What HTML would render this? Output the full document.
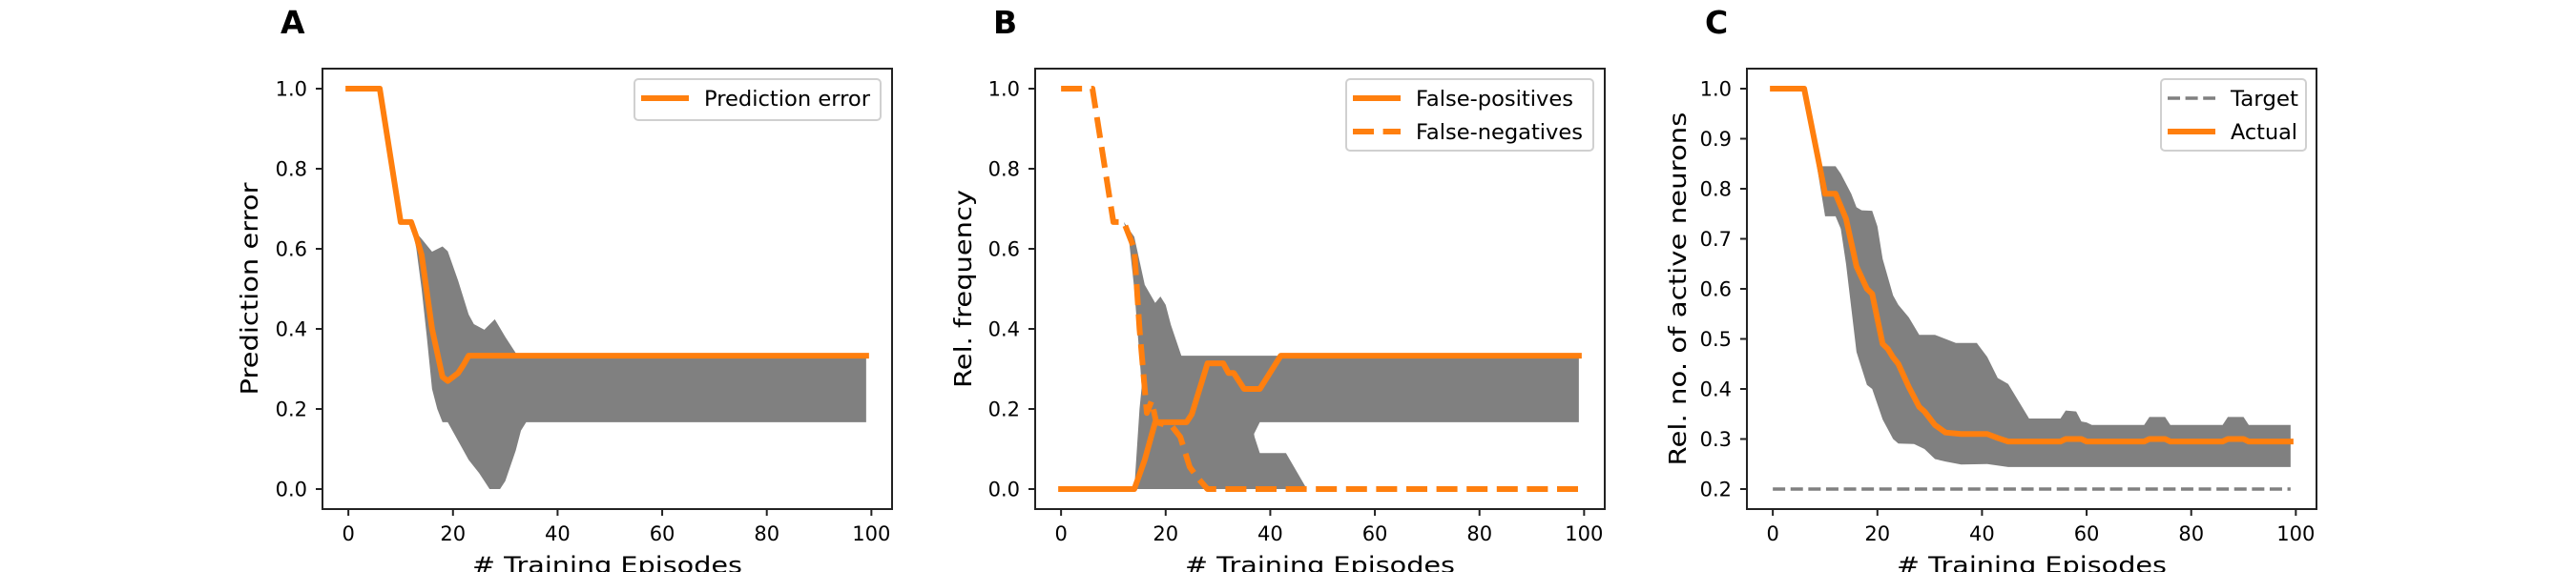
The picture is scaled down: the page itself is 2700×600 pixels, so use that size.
<!DOCTYPE html>
<html><head><meta charset="utf-8"><style>
html,body{margin:0;padding:0;background:#fff;}
svg{display:block;font-family:"DejaVu Sans","Liberation Sans",sans-serif;}
</style></head><body>
<svg id="fig" width="2700" height="600" viewBox="0 0 2700 600" xmlns="http://www.w3.org/2000/svg"></svg>
<script>
// ---------- Panel A data ----------
const aLineX = [0,6,10,12,13,14,16,18,19,21,22,23,99];
const aLineY = [1,1,0.667,0.667,0.63,0.585,0.4,0.28,0.27,0.29,0.31,0.333,0.333];
const aUpX = [12,13,14,16,18,19,21,23,24,26,28,30,32,33,99];
const aUpY = [0.667,0.64,0.625,0.593,0.606,0.594,0.52,0.436,0.412,0.398,0.424,0.38,0.34,0.333,0.333];
const aLoX = [12,13,14,15,16,17,18,19,21,23,25,27,29,30,32,33,34,99];
const aLoY = [0.667,0.6,0.5,0.38,0.25,0.2,0.167,0.167,0.12,0.073,0.04,0,0,0.02,0.096,0.146,0.167,0.167];
// ---------- Panel B data ----------
const bFpX = [0,14,16,18,24,25,28,31,32,33,35,38,42,99];
const bFpY = [0,0,0.073,0.167,0.167,0.187,0.314,0.314,0.29,0.29,0.25,0.25,0.333,0.333];
const bFnX = [0,6,10,12,14,15,16.4,17.3,18.2,21.3,22.8,24.6,26,28,99];
const bFnY = [1,1,0.667,0.667,0.6,0.4,0.19,0.22,0.167,0.155,0.13,0.055,0.03,0,0];
const bFnUpX = [12,14,16,18,19,20,21,23,36,37,38,43,47,99];
const bFnUpY = [0.667,0.63,0.51,0.465,0.481,0.46,0.41,0.333,0.2,0.13,0.09,0.09,0,0];
const bFnLoX = [12,13,14,16,17,99];
const bFnLoY = [0.667,0.62,0.5,0.16,0,0];
const bFpUpX = [14,15,16,99];
const bFpUpY = [0,0.2,0.333,0.333];
const bFpLoX = [14,35,36.6,38,99];
const bFpLoY = [0,0,0.13,0.167,0.167];
// ---------- Panel C data ----------
const cLineX = [0,6,10,12,14,16,18,19,21,22,23,24,26,28,29,31,33,36,41,43,45,55,56,59,60,71,72,75,76,86,87,90,91,99];
const cLineY = [1,1,0.79,0.79,0.74,0.645,0.6,0.59,0.49,0.48,0.463,0.45,0.404,0.364,0.355,0.328,0.313,0.31,0.31,0.302,0.295,0.295,0.3,0.3,0.295,0.295,0.3,0.3,0.295,0.295,0.3,0.3,0.295,0.295];
const cUpX = [6,9,12,13,15,16,17,19,20,21,23,24,26,28,31,35,39,41,43,45,49,55,56,58,59,60,61,71,72,75,76,86,87,90,91,99];
const cUpY = [1,0.845,0.845,0.83,0.79,0.763,0.757,0.756,0.725,0.66,0.587,0.568,0.543,0.508,0.508,0.492,0.492,0.464,0.422,0.41,0.341,0.341,0.357,0.355,0.335,0.333,0.328,0.328,0.344,0.344,0.328,0.328,0.344,0.344,0.328,0.328];
const cLoX = [6,10,12,13,14,16,18,19,21,23,24,27,29,31,33,36,41,45,99];
const cLoY = [1,0.745,0.745,0.72,0.65,0.474,0.408,0.4,0.339,0.3,0.291,0.29,0.28,0.26,0.255,0.249,0.25,0.244,0.244];
const cTargetX = [0,99];
const cTargetY = [0.2,0.2];
// ---------- ticks ----------
const xTicks = [0,20,40,60,80,100];
const abYTicks = [0,0.2,0.4,0.6,0.8,1.0];
const abYTickLabels = ["0.0","0.2","0.4","0.6","0.8","1.0"];
const cYTicks = [0.2,0.3,0.4,0.5,0.6,0.7,0.8,0.9,1.0];
const cYTickLabels = ["0.2","0.3","0.4","0.5","0.6","0.7","0.8","0.9","1.0"];

const NS = "http://www.w3.org/2000/svg";
const svg = document.getElementById('fig');
const ORANGE = "#ff7f0e";
function mk(tag, attrs, parent){
  const e = document.createElementNS(NS, tag);
  for (const k in attrs) e.setAttribute(k, attrs[k]);
  (parent||svg).appendChild(e);
  return e;
}
function makeAxes(left, ylo, yhi){
  const top=72, bottom=534, right=left+597;
  const xlo=-4.95, xhi=103.95;
  return {left,right,top,bottom,
    sx: v => left + (v-xlo)/(xhi-xlo)*(right-left),
    sy: v => bottom - (v-ylo)/(yhi-ylo)*(bottom-top)};
}
function pathLine(ax, xs, ys){
  return xs.map((x,i)=>(i?'L':'M')+ax.sx(x).toFixed(2)+' '+ax.sy(ys[i]).toFixed(2)).join(' ');
}
function pathBand(ax, ux, uy, lx, ly){
  let d = pathLine(ax, ux, uy);
  for (let i=lx.length-1;i>=0;i--) d += ' L'+ax.sx(lx[i]).toFixed(2)+' '+ax.sy(ly[i]).toFixed(2);
  return d+' Z';
}
function frame(ax, g, yt, ytl, ylabel, ylabelX, ylabelLen, letter){
  xTicks.forEach(t=>{
    const x=ax.sx(t);
    const tk = mk('line',{x1:x,x2:x,y1:ax.bottom,y2:ax.bottom+7,stroke:'#222','stroke-width':2},g);
    
    
    const tl = mk('text',{x:x,y:567,'font-size':21,'text-anchor':'middle',fill:'#000'},g);
    tl.textContent = String(t);
    
    
  });
  yt.forEach((t,i)=>{
    const y=ax.sy(t);
    const tk = mk('line',{x1:ax.left-7,x2:ax.left,y1:y,y2:y,stroke:'#222','stroke-width':2},g);
    
    
    const tl = mk('text',{x:ax.left-16,y:y+7.5,'font-size':21,'text-anchor':'end',fill:'#000'},g);
    tl.textContent = ytl[i];
    
    
  });
  const sp = mk('rect',{x:ax.left,y:ax.top,width:ax.right-ax.left,height:ax.bottom-ax.top,fill:'none',stroke:'#222','stroke-width':2},g);
  
  
  const xl = mk('text',{x:(ax.left+ax.right)/2,y:601,'font-size':24,'text-anchor':'middle',fill:'#000',textLength:283,lengthAdjust:'spacingAndGlyphs'},g);
  xl.textContent = '# Training Episodes';
  
  
  const cy=(ax.top+ax.bottom)/2;
  const yl = mk('text',{x:ylabelX,y:cy,'font-size':25,'text-anchor':'middle',fill:'#000',textLength:ylabelLen,lengthAdjust:'spacingAndGlyphs',transform:`rotate(-90 ${ylabelX} ${cy})`},g);
  yl.textContent = ylabel;
  
  
  const lt = mk('text',{x:ax.left-44,y:35,'font-size':33,'font-weight':'bold',fill:'#000'},g);
  lt.textContent = letter;
  
  
}
function legend(g, x, y, w, h, entries){
  const box = mk('rect',{x:x,y:y,width:w,height:h,rx:4,fill:'#fff','fill-opacity':0.85,stroke:'#d0d0d0','stroke-width':2},g);
  
  
  entries.forEach((e,i)=>{
    const ly = y+20+i*35;
    const ln = mk('line',{x1:x+7,x2:x+57,y1:ly,y2:ly,stroke:e.color,'stroke-width':e.w,'stroke-dasharray':e.dash||'none'},g);
    
    
    const t = mk('text',{x:x+73,y:ly+8,'font-size':22,fill:'#000',textLength:e.len,lengthAdjust:'spacingAndGlyphs'},g);
    t.textContent = e.label;
    
    
  });
}

// ---------- Panel A ----------
{
  const g = mk('g',{});
  
  
  const ax = makeAxes(338,-0.05,1.05);
  const band = mk('path',{d:pathBand(ax,aUpX,aUpY,aLoX,aLoY),fill:'#808080'},g);
  
  
  const ln = mk('path',{d:pathLine(ax,aLineX,aLineY),fill:'none',stroke:ORANGE,'stroke-width':6,'stroke-linejoin':'round','stroke-linecap':'square'},g);
  
  
  frame(ax,g,abYTicks,abYTickLabels,'Prediction error',270,223,'A');
  legend(g,665,83,258,43,[{label:'Prediction error',color:ORANGE,w:6,len:174}]);
}
// ---------- Panel B ----------
{
  const g = mk('g',{});
  
  
  const ax = makeAxes(1085,-0.05,1.05);
  const b1 = mk('path',{d:pathBand(ax,bFnUpX,bFnUpY,bFnLoX,bFnLoY),fill:'#808080'},g);
  
  
  const b2 = mk('path',{d:pathBand(ax,bFpUpX,bFpUpY,bFpLoX,bFpLoY),fill:'#808080'},g);
  
  
  const fp = mk('path',{d:pathLine(ax,bFpX,bFpY),fill:'none',stroke:ORANGE,'stroke-width':6,'stroke-linejoin':'round','stroke-linecap':'square'},g);
  
  
  const fn = mk('path',{d:pathLine(ax,bFnX,bFnY),fill:'none',stroke:ORANGE,'stroke-width':6,'stroke-dasharray':'22 9.6','stroke-linejoin':'round'},g);
  
  
  frame(ax,g,abYTicks,abYTickLabels,'Rel. frequency',1018,208,'B');
  legend(g,1411,83,259,75,[{label:'False-positives',color:ORANGE,w:6,len:165},{label:'False-negatives',color:ORANGE,w:6,dash:'22 9.6',len:175}]);
}
// ---------- Panel C ----------
{
  const g = mk('g',{});
  
  
  const ax = makeAxes(1831,0.16,1.04);
  const band = mk('path',{d:pathBand(ax,cUpX,cUpY,cLoX,cLoY),fill:'#808080'},g);
  
  
  const tg = mk('path',{d:pathLine(ax,cTargetX,cTargetY),fill:'none',stroke:'#808080','stroke-width':3.5,'stroke-dasharray':'13 5.6'},g);
  
  
  const ln = mk('path',{d:pathLine(ax,cLineX,cLineY),fill:'none',stroke:ORANGE,'stroke-width':6,'stroke-linejoin':'round','stroke-linecap':'square'},g);
  
  
  frame(ax,g,cYTicks,cYTickLabels,'Rel. no. of active neurons',1767,371,'C');
  legend(g,2265,83,152,75,[{label:'Target',color:'#808080',w:3.5,dash:'13 5.6',len:71},{label:'Actual',color:ORANGE,w:6,len:70}]);
}
</script>
</body></html>
